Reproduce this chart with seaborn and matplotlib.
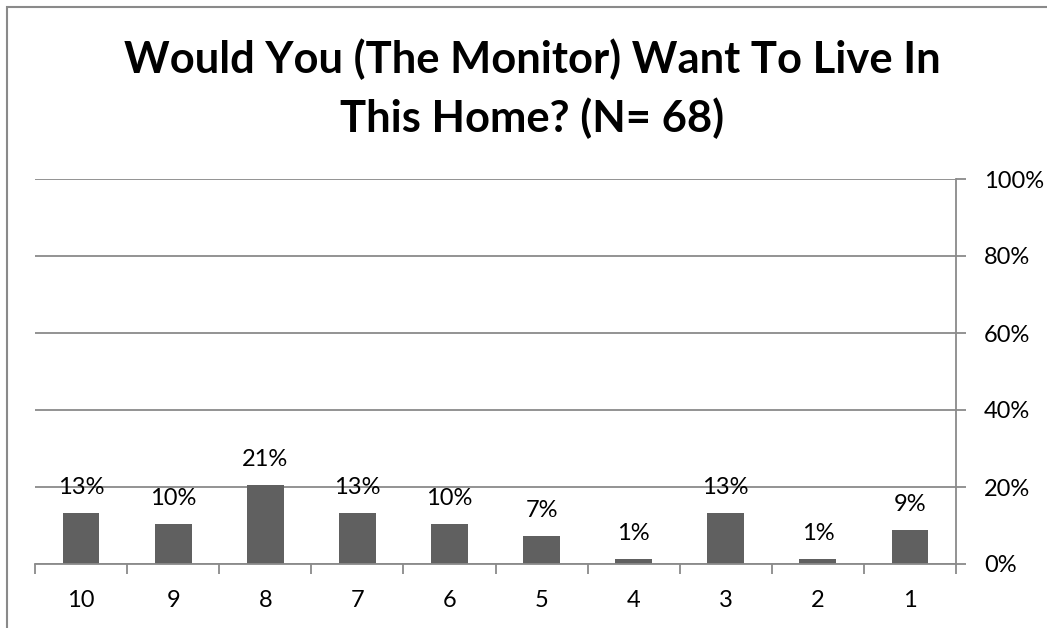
import matplotlib
matplotlib.use("Agg")
import matplotlib.pyplot as plt
import matplotlib.patches as mpatches
from matplotlib.ticker import FixedLocator, PercentFormatter
import seaborn as sns
import pandas as pd

# ---- data ----
categories = ["10", "9", "8", "7", "6", "5", "4", "3", "2", "1"]
shares = [0.132, 0.103, 0.206, 0.132, 0.103, 0.074, 0.014, 0.132, 0.014, 0.088]
title_line1 = "Would You (The Monitor) Want To Live In"
title_line2 = "This Home? (N= 68)"
y_ticks = [0.0, 0.2, 0.4, 0.6, 0.8, 1.0]

df = pd.DataFrame({"score": categories, "share": shares})

sns.set_theme(style="white")
plt.rcParams["font.family"] = ["Lato", "DejaVu Sans"]

W, H = 1047, 628
PX = 0.72  # points per pixel at dpi 100
fig = plt.figure(figsize=(W / 100, H / 100), dpi=100)
ax = fig.add_axes([35 / W, 1 - 564 / H, (956 - 35) / W, (564 - 179) / H])

grey = "#8a8a8a"
sns.barplot(data=df, x="score", y="share", order=categories, color="#606060",
            saturation=1, width=0.4, ax=ax, zorder=3, edgecolor="none")

ax.set_xlim(-0.5, len(categories) - 0.5)
ax.set_ylim(0, 1)
ax.set_xlabel("")
ax.set_ylabel("")

fs = 17

# y axis on the right
ax.yaxis.tick_right()
ax.yaxis.set_label_position("right")
ax.set_yticks(y_ticks)
ax.yaxis.set_major_formatter(PercentFormatter(1.0, decimals=0))
ax.grid(axis="y", color=grey, linewidth=1.3, zorder=0)
ax.tick_params(axis="y", which="major", right=True, left=False, direction="out",
               length=10 * PX, width=1.3, color=grey, pad=18 * PX,
               labelsize=fs, labelcolor="black")

# x ticks: boundary marks as minor ticks, labels on major
ax.xaxis.set_minor_locator(FixedLocator([i - 0.5 for i in range(len(categories) + 1)]))
ax.tick_params(axis="x", which="minor", bottom=True, direction="out", length=10 * PX,
               width=1.3, color=grey)
ax.tick_params(axis="x", which="major", bottom=True, length=0, pad=26 * PX,
               labelsize=fs, labelcolor="black")

for s in ["left", "top"]:
    ax.spines[s].set_visible(False)
for s in ["right", "bottom"]:
    ax.spines[s].set_visible(True)
    ax.spines[s].set_color(grey)
    ax.spines[s].set_linewidth(1.3)
ax.spines["bottom"].set_zorder(4)

for c in ax.containers:
    ax.bar_label(c, labels=[f"{v * 100:.0f}%" for v in c.datavalues],
                 padding=15 * PX, fontsize=fs, color="black")

# titles
fig.text(532 / W, 1 - 73 / H, title_line1, ha="center", va="baseline",
         fontsize=31.3, fontweight="bold", color="black")
fig.text(532 / W, 1 - 132 / H, title_line2, ha="center", va="baseline",
         fontsize=31.3, fontweight="bold", color="black")

# figure border
fig.patches.append(mpatches.Rectangle((7 / W, -0.1), 2, 1 - 7 / H + 0.1,
                                      transform=fig.transFigure, fill=False,
                                      edgecolor=grey, linewidth=1.5))

fig.savefig("out.png", dpi=100)
